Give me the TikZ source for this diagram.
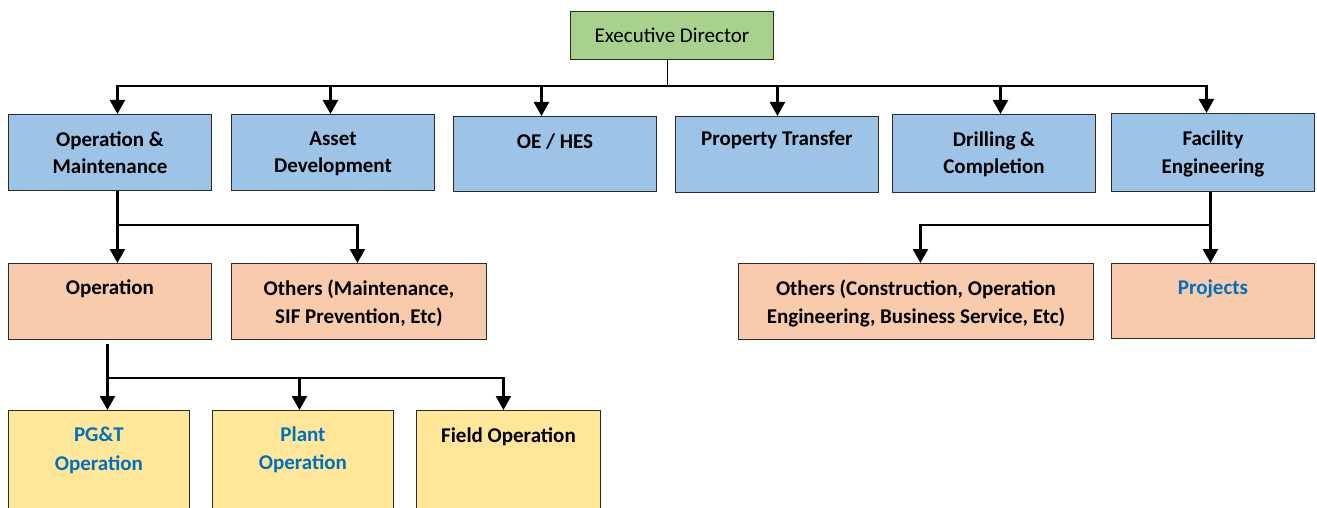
\documentclass[tikz,border=0pt]{standalone}
\usepackage{fontspec}
\setmainfont{Carlito}
\usetikzlibrary{arrows.meta}
\definecolor{cgreen}{HTML}{A9D18E}
\definecolor{cblue}{HTML}{9DC3E6}
\definecolor{cpeach}{HTML}{F8CBAD}
\definecolor{cyellow}{HTML}{FFE699}
\definecolor{ctext}{HTML}{0070C0}
\definecolor{cline}{HTML}{2B2B2B}
\tikzset{
  box/.style={draw=cline, line width=0.9pt, anchor=north west, inner sep=0pt},
  lbl/.style={anchor=north, inner sep=0pt, align=center, font=\fontsize{21}{28}\selectfont\bfseries},
  conn/.style={line width=2.4pt, line join=miter},
  arr/.style={conn, -{Triangle[width=15pt,length=14pt]}},
}
\begin{document}
\begin{tikzpicture}[x=1pt,y=-1pt]
\useasboundingbox (0,0) rectangle (1317,508);
\clip (0,0) rectangle (1317,508);
% boxes
\node[box, fill=cgreen, minimum width=203pt, minimum height=48pt] (ed) at (570,11) {};
\node[box, fill=cblue, minimum width=203pt, minimum height=76pt] (om) at (8,114) {};
\node[box, fill=cblue, minimum width=203pt, minimum height=76pt] (ad) at (231,114) {};
\node[box, fill=cblue, minimum width=203pt, minimum height=75pt] (oe) at (453,116) {};
\node[box, fill=cblue, minimum width=203pt, minimum height=76pt] (pt) at (675,116) {};
\node[box, fill=cblue, minimum width=203pt, minimum height=78pt] (dc) at (892,114) {};
\node[box, fill=cblue, minimum width=203pt, minimum height=78pt] (fe) at (1111,113) {};
\node[box, fill=cpeach, minimum width=203pt, minimum height=76pt] (op) at (8,263) {};
\node[box, fill=cpeach, minimum width=255pt, minimum height=76pt] (ot) at (231,263) {};
\node[box, fill=cpeach, minimum width=355pt, minimum height=76pt] (oc) at (738,263) {};
\node[box, fill=cpeach, minimum width=203pt, minimum height=75pt] (pj) at (1111,263) {};
\node[box, fill=cyellow, minimum width=181pt, minimum height=130pt] (pg) at (8,410) {};
\node[box, fill=cyellow, minimum width=181pt, minimum height=130pt] (pl) at (212,410) {};
\node[box, fill=cyellow, minimum width=184pt, minimum height=130pt] (fo) at (416,410) {};
% labels
\node[lbl, font=\fontsize{21}{28}\selectfont] (edt) at ([yshift=-16.5pt]ed.north) {Executive Director};
\node[lbl] (omt) at ([yshift=-17.5pt]om.north) {Operation \&\\[-1pt]Maintenance};
\node[lbl] (adt) at ([yshift=-17.5pt]ad.north) {Asset\\[-1pt]Development};
\node[lbl] (oet) at ([yshift=-17.5pt]oe.north) {OE / HES};
\node[lbl] (ptt) at ([yshift=-14.5pt]pt.north) {Property Transfer};
\node[lbl] (dct) at ([yshift=-17.5pt]dc.north) {Drilling \&\\[-1pt]Completion};
\node[lbl] (fet) at ([yshift=-17.5pt]fe.north) {Facility\\Engineering};
\node[lbl] (opt) at ([yshift=-16.5pt]op.north) {Operation};
\node[lbl] (ott) at ([yshift=-16.5pt]ot.north) {Others (Maintenance,\\SIF Prevention, Etc)};
\node[lbl] (oct) at ([yshift=-16.5pt]oc.north) {Others (Construction, Operation\\Engineering, Business Service, Etc)};
\node[lbl, text=ctext] (pjt) at ([yshift=-16.5pt]pj.north) {Projects};
\node[lbl, text=ctext] (pgt) at ([yshift=-16.5pt]pg.north) {PG\&T\\[1pt]Operation};
\node[lbl, text=ctext] (plt) at ([yshift=-16.5pt]pl.north) {Plant\\Operation};
\node[lbl] (fot) at ([yshift=-17.5pt]fo.north) {Field Operation};
% connector anchor points
\coordinate (b1) at (0,86);
\coordinate (b2) at (0,225);
\coordinate (b3) at (0,378);
\coordinate (edS) at ([xshift=-4.5pt]ed.south);
\coordinate (omT) at ([xshift=7.5pt]om.north);
\coordinate (adT) at ([xshift=-2.5pt]ad.north);
\coordinate (oeT) at ([xshift=-13.5pt]oe.north);
\coordinate (ptT) at ([xshift=0.5pt]pt.north);
\coordinate (dcT) at ([xshift=6.5pt]dc.north);
\coordinate (feT) at ([xshift=-6.5pt]fe.north);
\coordinate (omS) at ([xshift=7.5pt]om.south);
\coordinate (opT) at (omS |- op.north);
\coordinate (otT) at ([xshift=-1.5pt]ot.north);
\coordinate (feS) at ([xshift=-2.5pt]fe.south);
\coordinate (ocT) at ([xshift=4.5pt]oc.north);
\coordinate (pjT) at ([xshift=-2.5pt]pj.north);
\coordinate (opS) at ([xshift=-2.5pt,yshift=-4pt]op.south);
\coordinate (pgT) at ([xshift=8.5pt]pg.north);
\coordinate (plT) at ([xshift=-3.5pt]pl.north);
\coordinate (foT) at ([xshift=-5pt]fo.north);
% connectors
\draw[line width=1pt] (edS) -- (edS |- b1);
\draw[arr] (edS |- b1) -| (omT);
\draw[arr] (edS |- b1) -| (adT);
\draw[arr] (edS |- b1) -| (oeT);
\draw[arr] (edS |- b1) -| (ptT);
\draw[arr] (edS |- b1) -| (dcT);
\draw[arr] (edS |- b1) -| (feT);
\draw[arr] (omS) -- (opT);
\draw[arr] (omS) |- (otT |- b2) -- (otT);
\draw[arr] (feS) -- (pjT);
\draw[arr] (feS) |- (ocT |- b2) -- (ocT);
\draw[arr] (opS) -- (pgT);
\draw[arr] (opS) |- (plT |- b3) -- (plT);
\draw[arr] (opS) |- (foT |- b3) -- (foT);
\end{tikzpicture}
\end{document}
